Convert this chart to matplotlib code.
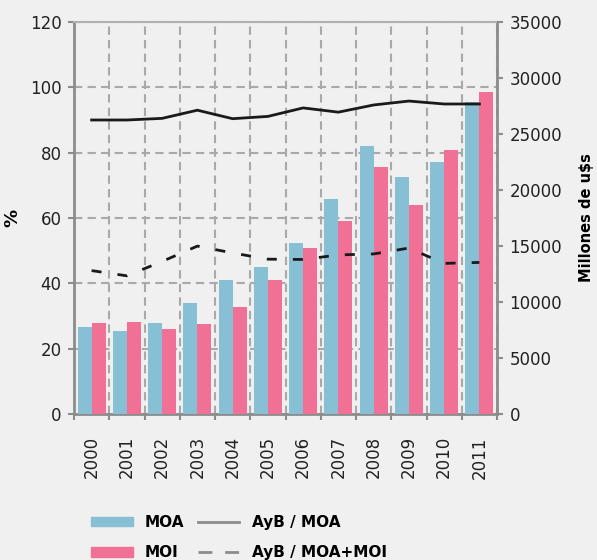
import matplotlib.pyplot as plt
import numpy as np
from matplotlib.patches import Patch
from matplotlib.lines import Line2D

plt.rcParams['font.family'] = ['DejaVu Sans']

years = ['2000', '2001', '2002', '2003', '2004', '2005',
         '2006', '2007', '2008', '2009', '2010', '2011']

# millones de u$s (eje derecho)
moa = [7770, 7410, 8120, 9910, 11960, 13120, 15270, 19200, 23930, 21160, 22500, 27860]
moi = [8120, 8210, 7590, 8040, 9550, 11960, 14820, 17230, 22050, 18660, 23570, 28750]

# porcentajes (eje izquierdo)
ayb_moa = [90.0, 90.0, 90.5, 93.0, 90.4, 91.1, 93.7, 92.4, 94.6, 95.8, 94.9, 94.9]
ayb_moa_moi = [43.9, 42.3, 46.7, 51.4, 49.3, 47.4, 47.3, 48.7, 49.0, 50.8, 46.1, 46.4]

bg = '#f0f0f0'
grid_c = '#a9a9ab'
spine_c = '#8c8c8c'
c_moa = '#87bfd4'
c_moi = '#f07096'

x = np.arange(len(years))
pos = [74 / 597, 1 - 414 / 560, (497 - 74) / 597, (414 - 22) / 560]

fig = plt.figure(figsize=(5.97, 5.6), dpi=100, facecolor=bg)

# base axes: background, grid, left scale
ax = fig.add_axes(pos)
ax.set_facecolor(bg)
ax.set_xlim(-0.5, len(years) - 0.5)
ax.set_ylim(0, 120)
ax.set_yticks(range(0, 121, 20))
ax.set_xticks(x)
ax.set_xticklabels(years, rotation=90)
ax.set_xticks(np.arange(-0.5, len(years)), minor=True)
ax.tick_params(axis='x', which='major', length=0, pad=16, labelsize=12, colors='#222222')
ax.tick_params(axis='x', which='minor', length=4, width=1.5, color=spine_c)
ax.tick_params(axis='y', length=4, width=1.5, color=spine_c, pad=5, labelsize=12, labelcolor='#222222')
ax.grid(axis='y', which='major', color=grid_c, linestyle=(0, (4, 2.5)), linewidth=1.5)
ax.grid(axis='x', which='minor', color=grid_c, linestyle=(0, (4, 2.5)), linewidth=1.5)
ax.set_axisbelow(True)
for s in ['left', 'bottom', 'right']:
    ax.spines[s].set_color(spine_c)
    ax.spines[s].set_linewidth(2)
ax.spines['top'].set_color('#b0b0b0')
ax.spines['top'].set_linewidth(1.5)
ax.set_ylabel('%', fontsize=13, fontweight='bold', labelpad=6)

# bars on the right scale
ax2 = ax.twinx()
ax2.set_ylim(0, 35000)
ax2.set_yticks(range(0, 35001, 5000))
ax2.bar(x - 0.2, moa, width=0.4, color=c_moa, zorder=2)
ax2.bar(x + 0.2, moi, width=0.4, color=c_moi, zorder=2)
ax2.tick_params(axis='y', length=4, width=1.5, color=spine_c, pad=5, labelsize=12, labelcolor='#222222')
for s in ax2.spines.values():
    s.set_visible(False)
ax2.set_ylabel('Millones de u$s', fontsize=10.5, fontweight='bold', labelpad=12)

# lines on top
ax3 = fig.add_axes(pos)
ax3.set_xlim(-0.5, len(years) - 0.5)
ax3.set_ylim(0, 120)
ax3.axis('off')
ax3.patch.set_visible(False)
ax3.plot(x, ayb_moa, color='#1a1a1a', linewidth=2)
ax3.plot(x, ayb_moa_moi, color='#1a1a1a', linewidth=2, dashes=(3.6, 5.8))

handles = [
    Patch(color=c_moa, label='MOA'),
    Patch(color=c_moi, label='MOI'),
    Line2D([], [], color='#8c8c8c', linewidth=2, label='AyB / MOA'),
    Line2D([], [], color='#8c8c8c', linewidth=2, dashes=(5, 4.6), label='AyB / MOA+MOI'),
]
fig.legend(handles=handles, ncol=2, loc='upper left', bbox_to_anchor=(0.13, 0.105),
           frameon=False, prop={'weight': 'bold', 'size': 11},
           handlelength=2.7, handleheight=0.6, handletextpad=0.8,
           columnspacing=0.9, labelspacing=1.0)

fig.savefig('out.png', dpi=100, facecolor=bg)
